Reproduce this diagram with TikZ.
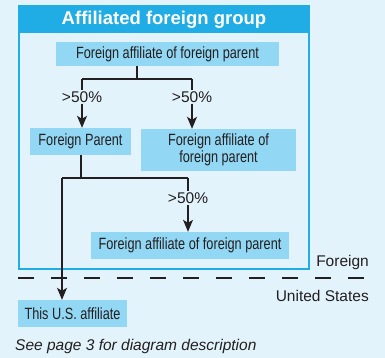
\documentclass[tikz,border=0pt]{standalone}
\usepackage{fontspec}
\setmainfont{Liberation Sans}
\newfontfamily\narrowfont[FakeStretch=0.78]{Liberation Sans}
\usetikzlibrary{arrows.meta,calc}
\definecolor{bgcol}{RGB}{226,243,251}
\definecolor{framecol}{RGB}{32,172,228}
\definecolor{boxcol}{RGB}{146,215,243}
\definecolor{inkcol}{RGB}{35,31,32}
\tikzset{
  x=1pt,y=-1pt,
  unit/.style={fill=boxcol,inner sep=0pt,font=\narrowfont\fontsize{16.3}{17}\selectfont,text=inkcol,align=center},
  pct/.style={font=\fontsize{15.5}{17}\selectfont,text=inkcol,inner sep=1pt},
  conn/.style={draw=inkcol,line width=1.2pt},
  arr/.style={conn,-{Stealth[length=12pt,width=10pt,inset=3pt]}},
  plain/.style={font=\fontsize{15.5}{17}\selectfont,text=inkcol,inner sep=0pt},
}
\begin{document}
\begin{tikzpicture}
\fill[bgcol] (0,0) rectangle (385,358);
\useasboundingbox (0,0) rectangle (385,358);
% group frame
\fill[framecol] (18,5) rectangle (310,33);
\draw[framecol,line width=2.3pt] (19,6) rectangle (309,269);
\node[font=\bfseries\fontsize{18.5}{20}\selectfont,text=white,inner sep=0pt] (title) at (164,20) {Affiliated foreign group};
% boxes
\node[unit,minimum width=223pt,minimum height=24pt] (A) at (167.5,54) {Foreign affiliate of foreign parent};
\node[unit,minimum width=101pt,minimum height=27pt] (B) at (80.5,141.5) {Foreign Parent};
\node[unit,minimum width=155pt,minimum height=42pt] (C) at (218.5,150) {Foreign affiliate of\\foreign parent};
\node[unit,minimum width=198pt,minimum height=27pt] (D) at (190,245.5) {Foreign affiliate of foreign parent};
\node[unit,minimum width=109pt,minimum height=27pt] (E) at (72.5,313.5) {This U.S. affiliate};
% labels
\node[pct] (p1) at (82,97) {>50\%};
\node[pct] (p2) at (192,97) {>50\%};
\node[pct] (p3) at (188,198) {>50\%};
% junctions
\coordinate (j1) at (137,79);
\coordinate (j1l) at (82,79);
\coordinate (j1r) at (192,79);
\coordinate (j2) at (81,178);
\coordinate (j2l) at (62,178);
\coordinate (j2r) at (188,178);
% connectors
\draw[conn] (A.south -| j1) -- (j1);
\draw[conn] (j1l) -- (j1r);
\draw[conn] (j1l) -- (p1.north);
\draw[conn] (j1r) -- (p2.north);
\draw[arr] (p1.south) -- (B.north -| p1);
\draw[arr] (p2.south) -- (C.north -| p2);
\draw[conn] (B.south -| j2) -- (j2);
\draw[conn] (j2l) -- (j2r);
\draw[conn] (j2r) -- (p3.north);
\draw[arr] (p3.south) -- (D.north -| p3);
\draw[arr] (j2l) -- (E.north -| j2l);
% border line
\coordinate (dl) at (18,278);
\coordinate (dr) at (369,278);
\draw[inkcol,line width=1.2pt,dash pattern=on 16pt off 17pt] (dl) -- (dr);
\node[plain,anchor=east] (fo) at (369,262.5) {Foreign};
\node[plain,anchor=east] (us) at (369,296) {United States};
% caption
\node[plain,anchor=west,font=\itshape\fontsize{15.5}{17}\selectfont] (cap) at (15,346) {See page 3 for diagram description};
\end{tikzpicture}
\end{document}
